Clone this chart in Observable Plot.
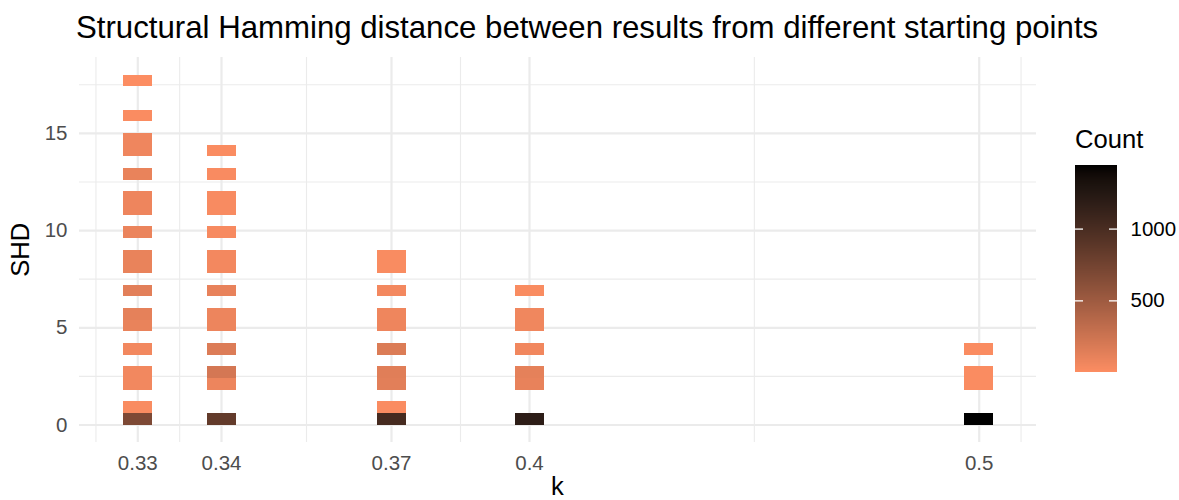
<!DOCTYPE html>
<html>
<head>
<meta charset="utf-8">
<script src="https://cdn.jsdelivr.net/npm/d3@7"></script>
<script src="https://cdn.jsdelivr.net/npm/@observablehq/plot@0.6"></script>
<style>
  html, body { margin: 0; padding: 0; background: #ffffff; }
  #page { position: relative; width: 1179px; height: 500px; overflow: hidden; background: #ffffff;
          font-family: "Liberation Sans", Arial, Helvetica, sans-serif; }
  #title { position: absolute; left: 76px; top: 11.9px; font-size: 31.2px; line-height: 1; color: #000; white-space: nowrap; }
  #main { position: absolute; left: 0; top: 50px; }
  #ylab { position: absolute; left: -79px; top: 237.2px; width: 200px; height: 25.6px; font-size: 25.6px; line-height: 1;
          text-align: center; color: #000; transform: rotate(-90deg); transform-origin: 50% 50%; }
  #xlab { position: absolute; left: 457.5px; top: 474px; width: 200px; height: 25.6px; font-size: 25.6px; line-height: 1;
          text-align: center; color: #000; }
  #legendTitle { position: absolute; left: 1075px; top: 127.3px; font-size: 25.6px; line-height: 1; color: #000; }
  #legend { position: absolute; left: 1075px; top: 120px; }
</style>
</head>
<body>
<div id="page">
  <div id="title">Structural Hamming distance between results from different starting points</div>
  <div id="main"></div>
  <div id="ylab">SHD</div>
  <div id="xlab">k</div>
  <div id="legendTitle">Count</div>
  <div id="legend"></div>
</div>
<script>
// ---------------- data ----------------
const kValues = [0.33, 0.34, 0.37, 0.4, 0.5];
const xTickLabels = ["0.33", "0.34", "0.37", "0.4", "0.5"];
const yTicks = [0, 5, 10, 15];
const legendTicks = [500, 1000];

// SHD values observed for each k, with pair counts
const shd_033   = [0, 1, 2, 3, 4, 5, 6, 7, 8, 9, 10, 11, 12, 13, 14, 15, 16, 18];
const count_033 = [684, 15, 50, 50, 50, 100, 120, 135, 100, 100, 90, 75, 75, 100, 65, 65, 12, 1];
const shd_034   = [0, 2, 3, 4, 5, 6, 7, 8, 9, 10, 11, 12, 13, 14];
const count_034 = [838, 80, 210, 165, 80, 80, 105, 45, 45, 25, 20, 20, 18, 12];
const shd_037   = [0, 1, 2, 3, 4, 5, 6, 7, 8, 9];
const count_037 = [1021, 12, 135, 145, 170, 75, 70, 45, 15, 15];
const shd_040   = [0, 2, 3, 4, 5, 6, 7];
const count_040 = [1185, 105, 120, 55, 60, 60, 15];
const shd_050   = [0, 2, 3, 4];
const count_050 = [1443, 12, 12, 12];

const shdByK = [shd_033, shd_034, shd_037, shd_040, shd_050];
const countByK = [count_033, count_034, count_037, count_040, count_050];

// ---------------- binning (ggplot2 bin2d style, 30 bins over SHD 0..18) ----------------
const binWidth = 18 / 30;
const binIndex = v => v === 0 ? 0 : Math.ceil(v / binWidth - 1e-6) - 1;
const tiles = [];
kValues.forEach((k, i) => {
  shdByK[i].forEach((s, j) => {
    const b = binIndex(s);
    tiles.push({k, shd: s, count: countByK[i][j], y1: b * binWidth, y2: (b + 1) * binWidth});
  });
});

const counts = tiles.map(d => d.count);
const cMin = d3.min(counts), cMax = d3.max(counts);

const FONT = '"Liberation Sans", Arial, Helvetica, sans-serif';
const GRID = "#EBEBEB";
const colorScale = {type: "linear", domain: [cMin, cMax], range: ["#FC8D62", "#000000"], interpolate: "lab"};

// x: ticks sit at the k values on a piecewise axis (as in the reference), extended by the first step
const step = kValues[1] - kValues[0];
const xDomain = [kValues[0] - step, ...kValues, kValues[kValues.length - 1] + step];
const xRange = [53.6, 137.3, 221, 391, 529, 978.7, 1062.4];

const minorX = [kValues[0] - step / 2,
  ...d3.pairs(kValues).map(([a, b]) => (a + b) / 2),
  kValues[kValues.length - 1] + step / 2];
const minorY = yTicks.map(d => d + 2.5).filter(d => d < 18.9);

const main = Plot.plot({
  width: 1179,
  height: 450,
  marginTop: 7,
  marginBottom: 58,
  marginLeft: 79,
  marginRight: 143,
  style: {fontFamily: FONT, fontSize: "20.5px", color: "#4D4D4D", background: "#ffffff"},
  x: {type: "linear", domain: xDomain, range: xRange, ticks: kValues,
      tickFormat: d => xTickLabels[kValues.indexOf(d)], tickSize: 0, tickPadding: 13, label: null},
  y: {domain: [-0.9, 18.9], ticks: yTicks, tickSize: 0, tickPadding: 12, label: null},
  color: colorScale,
  marks: [
    Plot.ruleX(minorX, {x: d => d, stroke: GRID, strokeWidth: 1.1}),
    Plot.ruleY(minorY, {y: d => d, stroke: GRID, strokeWidth: 1.1}),
    Plot.ruleX(kValues, {x: d => d, stroke: GRID, strokeWidth: 2.2}),
    Plot.ruleY(yTicks, {y: d => d, stroke: GRID, strokeWidth: 2.2}),
    Plot.rect(tiles, {x1: "k", x2: "k", y1: "y1", y2: "y2", fill: "count",
                      insetLeft: -14.5, insetRight: -14.5, shapeRendering: "crispEdges"})
  ]
});
document.getElementById("main").appendChild(main);

// ---------------- legend (vertical colour bar) ----------------
const nSlices = 300;
const slices = d3.range(nSlices).map(i => ({
  y1: cMin + i * (cMax - cMin) / nSlices,
  y2: cMin + (i + 1) * (cMax - cMin) / nSlices,
  v: cMin + (i + 0.5) * (cMax - cMin) / nSlices
}));

const legend = Plot.plot({
  width: 104,
  height: 260,
  marginTop: 45,
  marginBottom: 8,
  marginLeft: 0,
  marginRight: 62,
  style: {fontFamily: FONT, fontSize: "20.5px", color: "#000000", background: "transparent"},
  y: {domain: [cMin, cMax], ticks: legendTicks, tickFormat: d => String(d), tickSize: 0, tickPadding: 13,
      label: null, axis: "right"},
  color: colorScale,
  marks: [
    Plot.rect(slices, {y1: "y1", y2: "y2", fill: "v", shapeRendering: "crispEdges"}),
    Plot.tickY(legendTicks, {y: d => d, stroke: "#ffffff", strokeWidth: 1.3, insetRight: 34}),
    Plot.tickY(legendTicks, {y: d => d, stroke: "#ffffff", strokeWidth: 1.3, insetLeft: 34})
  ]
});
document.getElementById("legend").appendChild(legend);
</script>
</body>
</html>
